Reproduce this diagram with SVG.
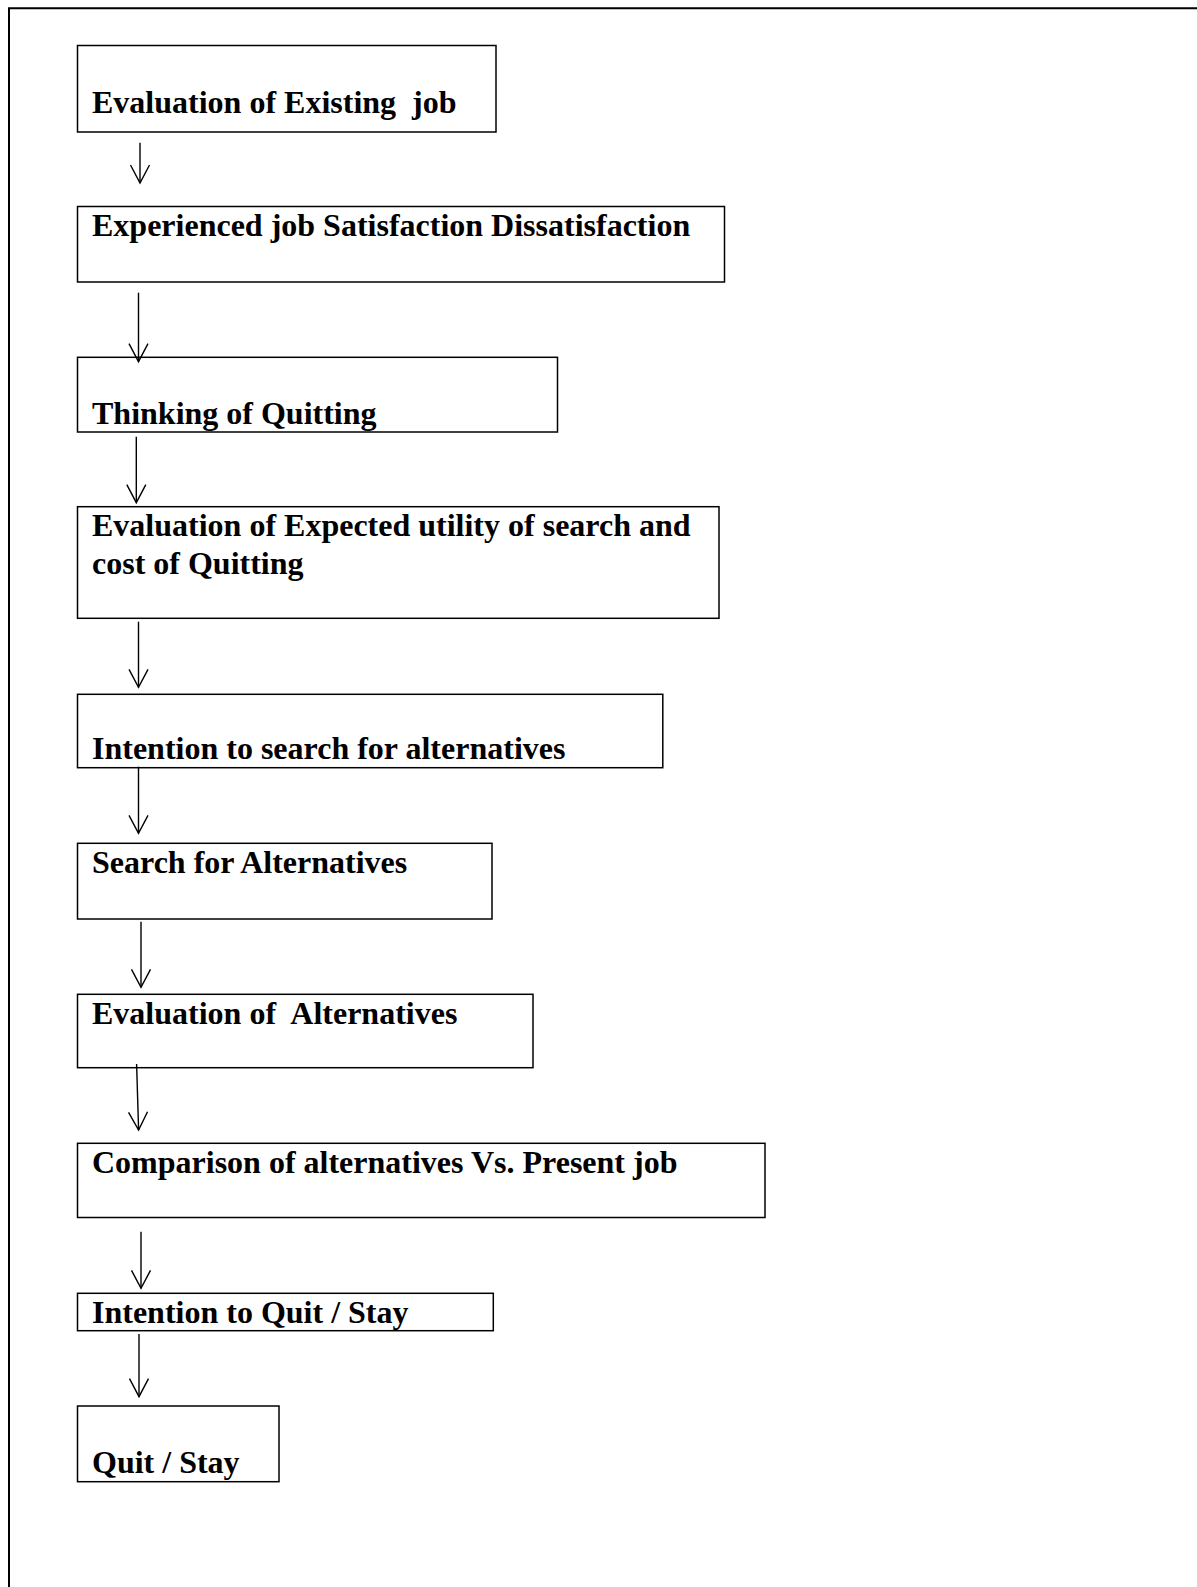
<svg xmlns="http://www.w3.org/2000/svg" width="1197" height="1587" viewBox="0 0 1197 1587">
<style>
  .box { fill: #ffffff; stroke: #000000; stroke-width: 1.5; }
  .lbl { font-family: "Liberation Serif", "Times New Roman", serif; font-weight: bold; font-size: 32px; fill: #000000; white-space: pre; }
  .conn { stroke: #000000; stroke-width: 1.4; fill: none; }
  .frame { stroke: #000000; stroke-width: 2; fill: none; }
</style>
<defs>
  <marker id="vhead" markerUnits="userSpaceOnUse" markerWidth="26" markerHeight="26" viewBox="-22 -13 26 26" refX="0" refY="0" orient="auto" overflow="visible">
    <path d="M-18,-9.5 L0,0 L-18,9.5" fill="none" stroke="#000000" stroke-width="1.4"/>
  </marker>
</defs>
<rect x="0" y="0" width="1197" height="1587" fill="#ffffff"/>
<path class="frame" d="M9,1587 V8.3 H1197"/>

<g id="n1"><rect class="box" x="77.5" y="45.5" width="418.5" height="86.5"/><text class="lbl" x="92" y="113">Evaluation of Existing  job</text></g>
<g id="n2"><rect class="box" x="77.5" y="206.5" width="647" height="75.5"/><text class="lbl" x="92" y="236">Experienced job Satisfaction Dissatisfaction</text></g>
<g id="n3"><rect class="box" x="77.5" y="357.3" width="480" height="74.7"/><text class="lbl" x="92" y="424">Thinking of Quitting</text></g>
<g id="n4"><rect class="box" x="77.5" y="506.7" width="641.5" height="111.6"/><text class="lbl" x="92" y="535.5">Evaluation of Expected utility of search and</text><text class="lbl" x="92" y="573.5">cost of Quitting</text></g>
<g id="n5"><rect class="box" x="77.5" y="694.3" width="585.3" height="73.4"/><text class="lbl" x="92" y="758.5">Intention to search for alternatives</text></g>
<g id="n6"><rect class="box" x="77.5" y="843.3" width="414.5" height="75.7"/><text class="lbl" x="92" y="872.7">Search for Alternatives</text></g>
<g id="n7"><rect class="box" x="77.5" y="994.3" width="455.5" height="73.4"/><text class="lbl" x="92" y="1024">Evaluation of  Alternatives</text></g>
<g id="n8"><rect class="box" x="77.5" y="1143.3" width="687.5" height="74.2"/><text class="lbl" x="92" y="1172.7">Comparison of alternatives Vs. Present job</text></g>
<g id="n9"><rect class="box" x="77.5" y="1293.3" width="415.8" height="37.4"/><text class="lbl" x="92" y="1322.7">Intention to Quit / Stay</text></g>
<g id="n10"><rect class="box" x="77.5" y="1406" width="201.5" height="75.7"/><text class="lbl" x="92" y="1472.7">Quit / Stay</text></g>

<g id="connectors">
  <line class="conn" x1="140" y1="142.7" x2="140" y2="183" marker-end="url(#vhead)"/>
  <line class="conn" x1="138.5" y1="292.7" x2="138.5" y2="361.7" marker-end="url(#vhead)"/>
  <line class="conn" x1="136.3" y1="436.7" x2="136.3" y2="502.7" marker-end="url(#vhead)"/>
  <line class="conn" x1="138.5" y1="621.7" x2="138.5" y2="687.3" marker-end="url(#vhead)"/>
  <line class="conn" x1="138.5" y1="766.7" x2="138.5" y2="833.3" marker-end="url(#vhead)"/>
  <line class="conn" x1="141" y1="921.7" x2="141" y2="987.3" marker-end="url(#vhead)"/>
  <line class="conn" x1="136.6" y1="1064" x2="138.6" y2="1130" marker-end="url(#vhead)"/>
  <line class="conn" x1="141" y1="1231.7" x2="141" y2="1288.3" marker-end="url(#vhead)"/>
  <line class="conn" x1="139" y1="1334" x2="139" y2="1396.7" marker-end="url(#vhead)"/>
</g>
</svg>
